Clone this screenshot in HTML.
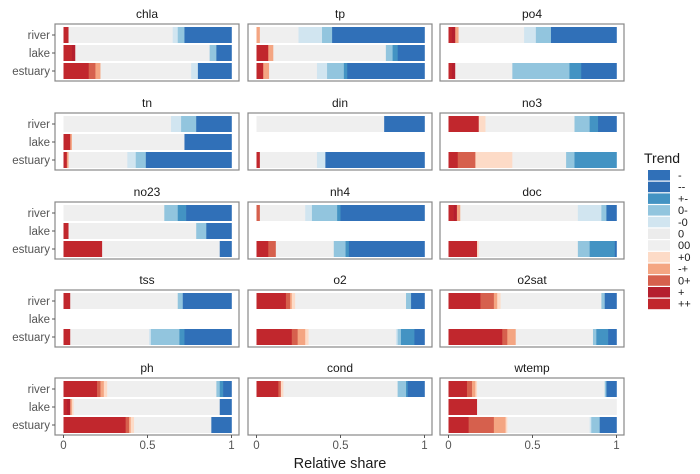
<!DOCTYPE html>
<html><head><meta charset="utf-8"><style>
html,body{margin:0;padding:0;background:#fff;}
svg{display:block;font-family:"Liberation Sans",sans-serif;}
</style></head><body>
<svg id="chart" width="700" height="474" viewBox="0 0 700 474"></svg>
<script>
const categories = ["++","+","0+","-+","+0","00","0","-0","0-","+-","--","-"];
const legendOrder = ["-","--","+-","0-","-0","0","00","+0","-+","0+","+","++"];
const colors = {"++":"#c1272d","+":"#b51f2e","0+":"#d6604d","-+":"#f4a582","+0":"#fddbc7","00":"#efefef","0":"#ececec","-0":"#d1e5f0","0-":"#92c5de","+-":"#4393c3","--":"#2f6db3","-":"#3070b8"};
const facets = ["chla","tp","po4","tn","din","no3","no23","nh4","doc","tss","o2","o2sat","ph","cond","wtemp"];
const rowsLabels = ["river","lake","estuary"];
const xTicks = [0,0.5,1];
const xTickLabels = ["0","0.5","1"];

const chla = [[0.03,0,0,0,0,0.62,0,0.03,0.04,0,0,0.28],[0.05,0.02,0,0,0,0.80,0,0,0.04,0,0,0.09],[0.15,0,0.04,0.03,0,0.54,0,0.04,0,0,0,0.20]];
const tp = [[0,0,0,0.02,0,0.23,0,0.14,0.06,0,0,0.55],[0.07,0,0,0.03,0,0.67,0,0,0.04,0.03,0,0.16],[0.04,0,0,0.035,0,0.285,0,0.06,0.10,0.02,0,0.46]];
const po4 = [[0.02,0.02,0,0.02,0,0.39,0,0.07,0.09,0,0,0.39],null,[0.02,0.02,0,0,0,0.34,0,0,0.34,0.07,0,0.21]];
const tn = [[0,0,0,0,0,0.64,0,0.06,0.09,0,0,0.21],[0.04,0,0,0.01,0,0.67,0,0,0,0,0,0.28],[0.02,0,0,0.01,0,0.35,0,0.05,0.06,0,0,0.51]];
const din = [[0,0,0,0,0,0.76,0,0,0,0,0,0.24],null,[0.02,0,0,0,0,0.34,0,0.05,0,0,0,0.59]];
const no3 = [[0.18,0,0,0,0.04,0.53,0,0,0.09,0.05,0,0.11],null,[0.055,0,0.105,0,0.22,0.32,0,0,0.05,0.25,0,0]];
const no23 = [[0,0,0,0,0,0.60,0,0,0.08,0.05,0,0.27],[0.03,0,0,0,0,0.76,0,0,0.06,0,0,0.15],[0.23,0,0,0,0,0.70,0,0,0,0,0,0.07]];
const nh4 = [[0,0,0.02,0,0,0.27,0,0.04,0.15,0.02,0,0.50],null,[0.07,0,0.045,0,0,0.345,0,0,0.07,0.02,0,0.45]];
const doc = [[0.03,0.02,0,0.02,0,0.70,0,0.14,0.03,0,0,0.06],null,[0.17,0,0,0,0.01,0.59,0,0,0.07,0.15,0,0.01]];
const tss = [[0.04,0,0,0,0,0.64,0,0,0.03,0,0,0.29],null,[0.04,0,0,0,0,0.47,0,0.01,0.17,0.03,0,0.28]];
const o2 = [[0.175,0,0.025,0.01,0.02,0.66,0,0,0.03,0,0,0.08],null,[0.21,0,0.035,0.045,0.02,0.52,0,0.01,0.02,0.08,0,0.06]];
const o2sat = [[0.19,0,0.08,0.02,0.02,0.60,0,0,0.02,0,0,0.07],null,[0.32,0,0.03,0.05,0,0.46,0,0,0.02,0.07,0,0.05]];
const ph = [[0.20,0,0.02,0.02,0.02,0.65,0,0,0.02,0.02,0,0.05],[0.02,0.02,0,0.01,0.01,0.87,0,0,0,0,0,0.07],[0.37,0,0.02,0.01,0.02,0.46,0,0,0,0,0,0.12]];
const cond = [[0.13,0,0.015,0,0.015,0.68,0,0,0.05,0.01,0,0.10],null,null];
const wtemp = [[0.11,0,0.03,0.02,0.01,0.76,0,0,0.01,0,0,0.06],[0.17,0,0,0,0,0.83,0,0,0,0,0,0],[0.12,0,0.15,0.07,0.01,0.49,0,0.01,0.05,0,0,0.10]];
const facetData = {chla,tp,po4,tn,din,no3,no23,nh4,doc,tss,o2,o2sat,ph,cond,wtemp};

const NS="http://www.w3.org/2000/svg";
const svg=document.getElementById("chart");
function mk(tag,attrs,parent){const e=document.createElementNS(NS,tag);for(const k in attrs)e.setAttribute(k,attrs[k]);(parent||svg).appendChild(e);return e;}

const colX=[55,248,440], rowY=[24,113,202,290,378], boxW=184, boxH=57;
const padL=8.5, dataW=168;
const bandOff=[11,29,47], barH=16;

facets.forEach((f,i)=>{
  const c=i%3, r=Math.floor(i/3);
  const bx=colX[c], by=rowY[r];
  const xs=v=>bx+padL+v*dataW;
  const g=mk("g",{});
  
  
  const t=mk("text",{x:bx+boxW/2,y:by-6,"text-anchor":"middle","font-size":"12",fill:"#1a1a1a"},g);
  t.textContent=f;
  
  
  const rows=facetData[f];
  rows.forEach((vals,ri)=>{
    if(!vals) return;
    let acc=0;
    const cy=by+bandOff[ri];
    vals.forEach((v,k)=>{
      if(v<=0) return;
      const rc=mk("rect",{x:xs(acc),y:cy-barH/2,width:v*dataW+0.3,height:barH,fill:colors[categories[k]]},g);
      
      
      acc+=v;
    });
  });
  const box=mk("rect",{x:bx,y:by,width:boxW,height:boxH,fill:"none",stroke:"#888","stroke-width":"1.2"},g);
  
  
  if(c===0){
    rowsLabels.forEach((lab,ri)=>{
      const cy=by+bandOff[ri];
      const tk=mk("line",{x1:bx-3,x2:bx,y1:cy,y2:cy,stroke:"#555","stroke-width":"1"},g);
      
      
      const tl=mk("text",{x:bx-5,y:cy+4,"text-anchor":"end","font-size":"11.5",fill:"#555"},g);
      tl.textContent=lab;
      
      
    });
  }
  if(r===4){
    xTicks.forEach((v,k)=>{
      const tk=mk("line",{x1:xs(v),x2:xs(v),y1:by+boxH,y2:by+boxH+3,stroke:"#555","stroke-width":"1"},g);
      
      
      const tl=mk("text",{x:xs(v),y:by+boxH+14,"text-anchor":"middle","font-size":"11.5",fill:"#555"},g);
      tl.textContent=xTickLabels[k];
      
      
    });
  }
});

const xt=mk("text",{x:340,y:468,"text-anchor":"middle","font-size":"14.5",fill:"#1a1a1a"});
xt.textContent="Relative share";



const lg=mk("g",{});


const lt=mk("text",{x:644,y:163,"font-size":"14",fill:"#1a1a1a"},lg);
lt.textContent="Trend";


legendOrder.forEach((cat,k)=>{
  const y=170+k*11.7;
  const kr=mk("rect",{x:648,y:y,width:22,height:10.5,fill:colors[cat]},lg);
  
  
  const kt=mk("text",{x:678,y:y+9,"font-size":"11",fill:"#1a1a1a"},lg);
  kt.textContent=cat;
  
  
});
</script>
</body></html>
